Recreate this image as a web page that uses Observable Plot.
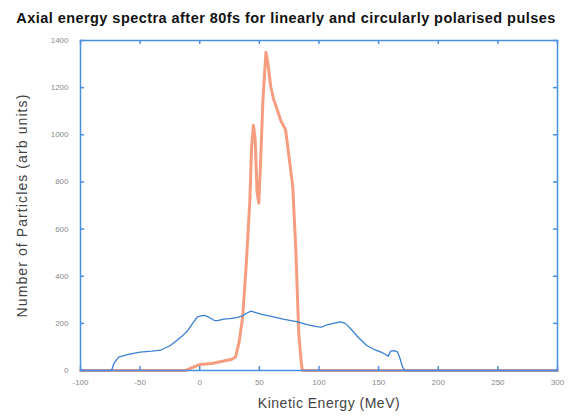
<!DOCTYPE html>
<html>
<head>
<meta charset="utf-8">
<script src="https://cdn.jsdelivr.net/npm/d3@7"></script>
<script src="https://cdn.jsdelivr.net/npm/@observablehq/plot@0.6"></script>
<style>
  html, body { margin: 0; padding: 0; background: #fff; }
  #title { height: 30px; width: 572px; text-align: center; font: bold 14.5px "Liberation Sans", Arial, sans-serif; letter-spacing: 0.45px; line-height: 36px; color: #111; white-space: nowrap; }
</style>
</head>
<body>
<div id="title">Axial energy spectra after 80fs for linearly and circularly polarised pulses</div>
<div id="chart"></div>
<script>
// Linearly polarised pulse (orange)
const linearEnergy = [-100, -12, -5, 0, 10, 20, 27, 30, 33, 36, 39, 42, 43.5, 45, 46.5, 48, 49.5, 51, 53, 55.5, 57, 59.5, 62, 65, 68, 72, 75, 78, 80.5, 83, 85, 86, 300];
const linearCount  = [0, 0, 15, 25, 30, 40, 48, 57, 120, 227, 450, 720, 950, 1040, 980, 760, 710, 880, 1150, 1350, 1310, 1205, 1150, 1106, 1060, 1021, 900, 780, 520, 160, 40, 0, 0];

// Circularly polarised pulse (blue)
const circEnergy = [-100, -74, -72, -68, -60, -50, -40, -33, -25, -19, -14, -10, -6, -2, 1, 4, 8, 12, 15, 20, 25, 31, 36, 40, 43, 47, 52, 60, 70, 82, 90, 98, 102, 106, 112, 118, 122, 127, 133, 140, 146, 152, 156, 158, 160, 163, 166, 168, 170, 172, 300];
const circCount  = [0, 0, 30, 57, 68, 78, 82, 86, 105, 128, 150, 170, 200, 227, 232, 234, 225, 213, 212, 218, 220, 224, 232, 245, 252, 246, 238, 230, 218, 206, 195, 186, 184, 192, 200, 206, 200, 175, 140, 106, 90, 78, 68, 60, 82, 84, 78, 50, 15, 0, 0];

const xTicks = [-100, -50, 0, 50, 100, 150, 200, 250, 300];
const yTicks = [0, 200, 400, 600, 800, 1000, 1200, 1400];

const linear = linearEnergy.map((e, i) => ({energy: e, count: linearCount[i]}));
const circ = circEnergy.map((e, i) => ({energy: e, count: circCount[i]}));

const blue = "#4a8fe0";
const font = "'Liberation Sans', Arial, sans-serif";

const chart = Plot.plot({
  width: 572,
  height: 389,
  marginLeft: 80,
  marginRight: 15,
  marginTop: 10,
  marginBottom: 49,
  style: {fontFamily: font, background: "#fff"},
  x: {domain: [-100, 300], axis: null},
  y: {domain: [0, 1400], axis: null},
  marks: [
    Plot.line(linear, {x: "energy", y: "count", stroke: "#f5845f", strokeWidth: 3, strokeOpacity: 0.8}),
    Plot.line(circ, {x: "energy", y: "count", stroke: "#3a7fd4", strokeWidth: 1.3}),
    Plot.frame({stroke: blue, strokeWidth: 1.5}),
    Plot.ruleX(xTicks, {x: d => d, y1: 0, y2: 17, stroke: blue, strokeWidth: 1.5}),
    Plot.ruleX(xTicks, {x: d => d, y1: 1383, y2: 1400, stroke: blue, strokeWidth: 1.5}),
    Plot.ruleY(yTicks, {y: d => d, x1: -100, x2: -96.6, stroke: blue, strokeWidth: 1.5}),
    Plot.ruleY(yTicks, {y: d => d, x1: 296.6, x2: 300, stroke: blue, strokeWidth: 1.5}),
    Plot.text(xTicks, {x: d => d, y: 0, dy: 12, text: d => String(d), fill: "#8a8a8a", fontSize: 8}),
    Plot.text(yTicks, {x: -100, y: d => d, dx: -12, text: d => String(d), textAnchor: "end", fill: "#8a8a8a", fontSize: 8}),
    Plot.text(["Kinetic Energy (MeV)"], {frameAnchor: "bottom", textAnchor: "middle", dx: 10, dy: 33, text: d => d, fill: "#444", fontSize: 14, lineAnchor: "middle", style: "letter-spacing: 0.4px"}),
    Plot.text(["Number of Particles (arb units)"], {frameAnchor: "left", textAnchor: "middle", lineAnchor: "middle", dx: -58, rotate: -90, text: d => d, fill: "#444", fontSize: 14})
  ]
});
d3.select(chart).selectAll("text").filter(function() { return this.textContent === "Number of Particles (arb units)"; }).style("letter-spacing", "1.1px");
d3.select(chart).selectAll("text").filter(function() { return this.textContent === "Kinetic Energy (MeV)"; }).style("letter-spacing", "0.5px");
document.getElementById("chart").appendChild(chart);
</script>
</body>
</html>
